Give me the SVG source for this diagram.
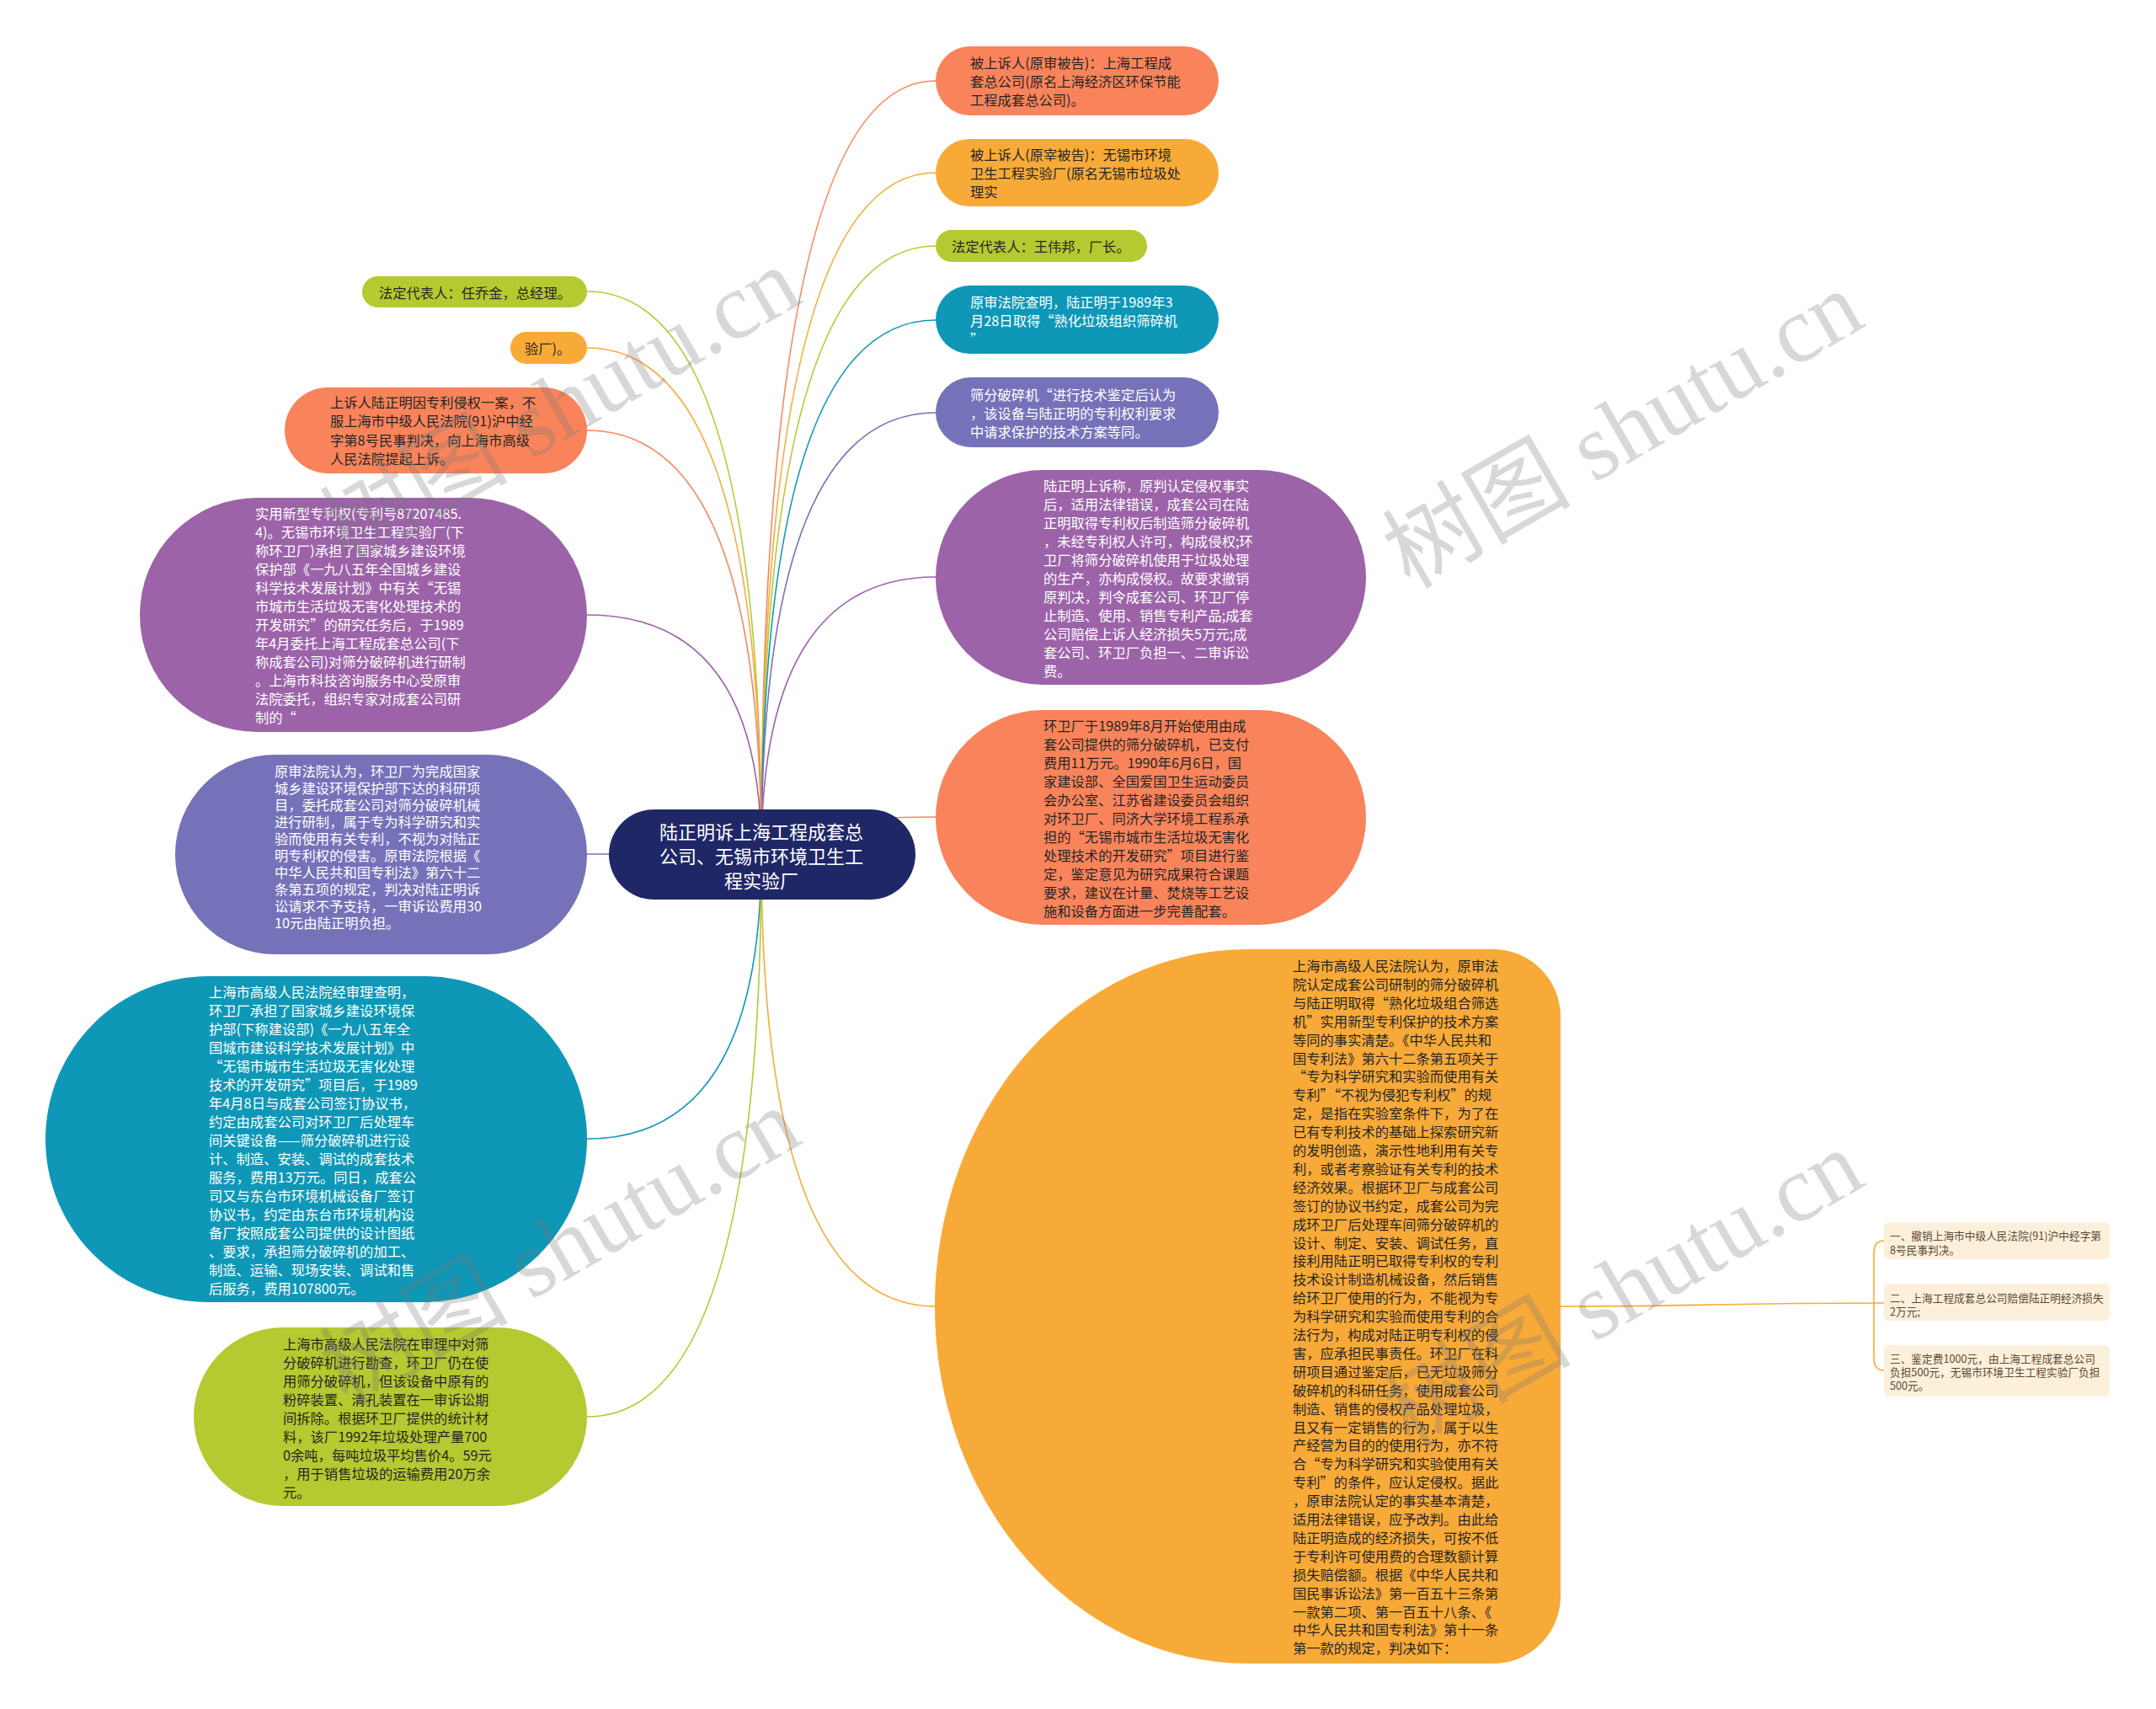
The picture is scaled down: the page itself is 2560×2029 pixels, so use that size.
<svg xmlns="http://www.w3.org/2000/svg" width="2560" height="2029" viewBox="0 0 2560 2029">
<style>
text{font-family:"Noto Sans CJK SC","Microsoft YaHei",sans-serif;dominant-baseline:central}
.t{font-size:16.3px}
.d{fill:#262626}
.w{fill:#ffffff}
.ct{font-size:22px;fill:#ffffff;text-anchor:middle}
.lf{font-size:12.7px;fill:#5c4a35}
.ln{fill:none;stroke-width:1.6}
.wm{font-family:"Liberation Serif","Noto Sans CJK SC",serif;font-size:112px;fill:#777777;opacity:0.28;text-anchor:middle}
.coral{fill:#F9845B}.orange{fill:#F8AA39}.green{fill:#B5C930}.teal{fill:#0F97B7}.bp{fill:#7572B9}.purple{fill:#9C63A8}.navy{fill:#1F2767}
.leaf{fill:#FDF0DB}
</style>
<rect x="0" y="0" width="2560" height="2029" fill="#ffffff"/>
<g id="connectors">
<path class="ln" stroke="#F9845B" d="M904 1014 Q904 96 1111 96"/>
<path class="ln" stroke="#F8AA39" d="M904 1014 Q904 205 1111 205"/>
<path class="ln" stroke="#B5C930" d="M904 1014 Q904 292 1111 292"/>
<path class="ln" stroke="#0F97B7" d="M904 1014 Q904 380 1111 380"/>
<path class="ln" stroke="#7572B9" d="M904 1014 Q904 490 1111 490"/>
<path class="ln" stroke="#9C63A8" d="M904 1014 Q904 685 1111 685"/>
<path class="ln" stroke="#F9845B" d="M904 1014 Q904 970 1111 970"/>
<path class="ln" stroke="#F8AA39" d="M904 1014 Q904 1551 1111 1551"/>
<path class="ln" stroke="#B5C930" d="M904 1014 Q904 346 697 346"/>
<path class="ln" stroke="#F8AA39" d="M904 1014 Q904 413 697 413"/>
<path class="ln" stroke="#F9845B" d="M904 1014 Q904 511 697 511"/>
<path class="ln" stroke="#9C63A8" d="M904 1014 Q904 730 697 730"/>
<path class="ln" stroke="#7572B9" d="M904 1014 L697 1014"/>
<path class="ln" stroke="#0F97B7" d="M904 1014 Q904 1352 697 1352"/>
<path class="ln" stroke="#B5C930" d="M904 1014 Q904 1682 697 1682"/>
<path class="ln" stroke="#F8AA39" d="M1853 1551 C2030 1551 2030 1547 2237 1547"/>
<path class="ln" stroke="#F8AA39" d="M2225 1547 L2225 1488 Q2225 1473 2237 1473"/>
<path class="ln" stroke="#F8AA39" d="M2225 1547 L2225 1612 Q2225 1627 2237 1627"/>
</g>
<g id="center">
<rect class="navy" x="723" y="961" width="364" height="107" rx="53.5"/>
<text class="ct" x="904" y="986">陆正明诉上海工程成套总</text>
<text class="ct" x="904" y="1015">公司、无锡市环境卫生工</text>
<text class="ct" x="904" y="1044">程实验厂</text>
</g>
<g id="r1">
<rect class="coral" x="1111" y="55" width="336" height="82" rx="41"/>
<text class="t d" x="1152"><tspan x="1152" y="74">被上诉人(原审被告)：上海工程成</tspan><tspan x="1152" y="96">套总公司(原名上海经济区环保节能</tspan><tspan x="1152" y="118">工程成套总公司)。</tspan></text>
</g>
<g id="r2">
<rect class="orange" x="1111" y="165" width="336" height="80" rx="40"/>
<text class="t d"><tspan x="1152" y="183">被上诉人(原宰被告)：无锡市环境</tspan><tspan x="1152" y="205">卫生工程实验厂(原名无锡市垃圾处</tspan><tspan x="1152" y="227">理实</tspan></text>
</g>
<g id="r3">
<rect class="green" x="1111" y="273" width="251" height="38" rx="19"/>
<text class="t d" x="1130" y="292">法定代表人：王伟邦，厂长。</text>
</g>
<g id="r4">
<rect class="teal" x="1111" y="339" width="336" height="81" rx="40.5"/>
<text class="t w"><tspan x="1152" y="358">原审法院查明，陆正明于1989年3</tspan><tspan x="1152" y="380">月28日取得“熟化垃圾组织筛碎机</tspan><tspan x="1152" y="402">”</tspan></text>
</g>
<g id="r5">
<rect class="bp" x="1111" y="448" width="336" height="83" rx="41.5"/>
<text class="t w"><tspan x="1152" y="468">筛分破碎机“进行技术鉴定后认为</tspan><tspan x="1152" y="490">，该设备与陆正明的专利权利要求</tspan><tspan x="1152" y="512">中请求保护的技术方案等同。</tspan></text>
</g>
<g id="r6">
<rect class="purple" x="1111" y="558" width="511" height="255" rx="127.5"/>
<text class="t w"><tspan x="1239" y="575.5">陆正明上诉称，原判认定侵权事实</tspan><tspan x="1239" y="597.5">后，适用法律错误，成套公司在陆</tspan><tspan x="1239" y="619.5">正明取得专利权后制造筛分破碎机</tspan><tspan x="1239" y="641.5">，未经专利权人许可，构成侵权;环</tspan><tspan x="1239" y="663.5">卫厂将筛分破碎机使用于垃圾处理</tspan><tspan x="1239" y="685.5">的生产，亦构成侵权。故要求撤销</tspan><tspan x="1239" y="707.5">原判决，判令成套公司、环卫厂停</tspan><tspan x="1239" y="729.5">止制造、使用、销售专利产品;成套</tspan><tspan x="1239" y="751.5">公司赔偿上诉人经济损失5万元;成</tspan><tspan x="1239" y="773.5">套公司、环卫厂负担一、二审诉讼</tspan><tspan x="1239" y="795.5">费。</tspan></text>
</g>
<g id="r7">
<rect class="coral" x="1111" y="843" width="511" height="255" rx="127.5"/>
<text class="t d"><tspan x="1239" y="860.5">环卫厂于1989年8月开始使用由成</tspan><tspan x="1239" y="882.5">套公司提供的筛分破碎机，已支付</tspan><tspan x="1239" y="904.5">费用11万元。1990年6月6日，国</tspan><tspan x="1239" y="926.5">家建设部、全国爱国卫生运动委员</tspan><tspan x="1239" y="948.5">会办公室、江苏省建设委员会组织</tspan><tspan x="1239" y="970.5">对环卫厂、同济大学环境工程系承</tspan><tspan x="1239" y="992.5">担的“无锡市城市生活垃圾无害化</tspan><tspan x="1239" y="1014.5">处理技术的开发研究”项目进行鉴</tspan><tspan x="1239" y="1036.5">定，鉴定意见为研究成果符合课题</tspan><tspan x="1239" y="1058.5">要求，建议在计量、焚烧等工艺设</tspan><tspan x="1239" y="1080.5">施和设备方面进一步完善配套。</tspan></text>
</g>
<g id="r8">
<path class="orange" d="M1481.5 1127 L1773 1127 A80 80 0 0 1 1853 1207 L1853 1895 A80 80 0 0 1 1773 1975 L1481.5 1975 A371.5 424 0 0 1 1481.5 1127 Z"/>
<text class="t d"><tspan x="1535" y="1146">上海市高级人民法院认为，原审法</tspan><tspan x="1535" y="1167.9">院认定成套公司研制的筛分破碎机</tspan><tspan x="1535" y="1189.8">与陆正明取得“熟化垃圾组合筛选</tspan><tspan x="1535" y="1211.7">机”实用新型专利保护的技术方案</tspan><tspan x="1535" y="1233.6">等同的事实清楚。《中华人民共和</tspan><tspan x="1535" y="1255.5">国专利法》第六十二条第五项关于</tspan><tspan x="1535" y="1277.4">“专为科学研究和实验而使用有关</tspan><tspan x="1535" y="1299.3">专利”“不视为侵犯专利权”的规</tspan><tspan x="1535" y="1321.2">定，是指在实验室条件下，为了在</tspan><tspan x="1535" y="1343.1">已有专利技术的基础上探索研究新</tspan><tspan x="1535" y="1365">的发明创造，演示性地利用有关专</tspan><tspan x="1535" y="1386.9">利，或者考察验证有关专利的技术</tspan><tspan x="1535" y="1408.8">经济效果。根据环卫厂与成套公司</tspan><tspan x="1535" y="1430.7">签订的协议书约定，成套公司为完</tspan><tspan x="1535" y="1452.6">成环卫厂后处理车间筛分破碎机的</tspan><tspan x="1535" y="1474.5">设计、制定、安装、调试任务，直</tspan><tspan x="1535" y="1496.4">接利用陆正明已取得专利权的专利</tspan><tspan x="1535" y="1518.3">技术设计制造机械设备，然后销售</tspan><tspan x="1535" y="1540.2">给环卫厂使用的行为，不能视为专</tspan><tspan x="1535" y="1562.1">为科学研究和实验而使用专利的合</tspan><tspan x="1535" y="1584">法行为，构成对陆正明专利权的侵</tspan><tspan x="1535" y="1605.9">害，应承担民事责任。环卫厂在科</tspan><tspan x="1535" y="1627.8">研项目通过鉴定后，已无垃圾筛分</tspan><tspan x="1535" y="1649.7">破碎机的科研任务，使用成套公司</tspan><tspan x="1535" y="1671.6">制造、销售的侵权产品处理垃圾，</tspan><tspan x="1535" y="1693.5">且又有一定销售的行为，属于以生</tspan><tspan x="1535" y="1715.4">产经营为目的的使用行为，亦不符</tspan><tspan x="1535" y="1737.3">合“专为科学研究和实验使用有关</tspan><tspan x="1535" y="1759.2">专利”的条件，应认定侵权。据此</tspan><tspan x="1535" y="1781.1">，原审法院认定的事实基本清楚，</tspan><tspan x="1535" y="1803">适用法律错误，应予改判。由此给</tspan><tspan x="1535" y="1824.9">陆正明造成的经济损失，可按不低</tspan><tspan x="1535" y="1846.8">于专利许可使用费的合理数额计算</tspan><tspan x="1535" y="1868.7">损失赔偿额。根据《中华人民共和</tspan><tspan x="1535" y="1890.6">国民事诉讼法》第一百五十三条第</tspan><tspan x="1535" y="1912.5">一款第二项、第一百五十八条、《</tspan><tspan x="1535" y="1934.4">中华人民共和国专利法》第十一条</tspan><tspan x="1535" y="1956.3">第一款的规定，判决如下：</tspan></text>
</g>
<g id="leaf1">
<rect class="leaf" x="2237" y="1451" width="268" height="44" rx="6"/>
<text class="lf"><tspan x="2244" y="1466">一、撤销上海市中级人民法院(91)沪中经字第</tspan><tspan x="2244" y="1482.5">8号民事判决。</tspan></text>
</g>
<g id="leaf2">
<rect class="leaf" x="2237" y="1524" width="268" height="44" rx="6"/>
<text class="lf"><tspan x="2244" y="1539.5">二、上海工程成套总公司赔偿陆正明经济损失</tspan><tspan x="2244" y="1556">2万元;</tspan></text>
</g>
<g id="leaf3">
<rect class="leaf" x="2237" y="1597" width="268" height="61" rx="6"/>
<text class="lf"><tspan x="2244" y="1612">三、鉴定费1000元，由上海工程成套总公司</tspan><tspan x="2244" y="1628">负担500元，无锡市环境卫生工程实验厂负担</tspan><tspan x="2244" y="1644">500元。</tspan></text>
</g>
<g id="l1">
<rect class="green" x="430" y="328" width="267" height="37" rx="18.5"/>
<text class="t d" x="450" y="346.5">法定代表人：任乔金，总经理。</text>
</g>
<g id="l2">
<rect class="orange" x="606" y="394" width="91" height="38" rx="19"/>
<text class="t d" x="623" y="413">验厂)。</text>
</g>
<g id="l3">
<rect class="coral" x="338" y="460" width="359" height="102" rx="51"/>
<text class="t d"><tspan x="392" y="477">上诉人陆正明因专利侵权一案，不</tspan><tspan x="392" y="499.3">服上海市中级人民法院(91)沪中经</tspan><tspan x="392" y="521.6">字第8号民事判决，向上海市高级</tspan><tspan x="392" y="543.9">人民法院提起上诉。</tspan></text>
</g>
<g id="l4">
<rect class="purple" x="166" y="591" width="531" height="278" rx="139"/>
<text class="t w"><tspan x="303" y="609">实用新型专利权(专利号87207485.</tspan><tspan x="303" y="631">4)。无锡市环境卫生工程实验厂(下</tspan><tspan x="303" y="653">称环卫厂)承担了国家城乡建设环境</tspan><tspan x="303" y="675">保护部《一九八五年全国城乡建设</tspan><tspan x="303" y="697">科学技术发展计划》中有关“无锡</tspan><tspan x="303" y="719">市城市生活垃圾无害化处理技术的</tspan><tspan x="303" y="741">开发研究”的研究任务后，于1989</tspan><tspan x="303" y="763">年4月委托上海工程成套总公司(下</tspan><tspan x="303" y="785">称成套公司)对筛分破碎机进行研制</tspan><tspan x="303" y="807">。上海市科技咨询服务中心受原审</tspan><tspan x="303" y="829">法院委托，组织专家对成套公司研</tspan><tspan x="303" y="851">制的“</tspan></text>
</g>
<g id="l5">
<rect class="bp" x="208" y="896" width="489" height="237" rx="118.5"/>
<text class="t w"><tspan x="326" y="914.5">原审法院认为，环卫厂为完成国家</tspan><tspan x="326" y="934.5">城乡建设环境保护部下达的科研项</tspan><tspan x="326" y="954.5">目，委托成套公司对筛分破碎机械</tspan><tspan x="326" y="974.5">进行研制，属于专为科学研究和实</tspan><tspan x="326" y="994.5">验而使用有关专利，不视为对陆正</tspan><tspan x="326" y="1014.5">明专利权的侵害。原审法院根据《</tspan><tspan x="326" y="1034.5">中华人民共和国专利法》第六十二</tspan><tspan x="326" y="1054.5">条第五项的规定，判决对陆正明诉</tspan><tspan x="326" y="1074.5">讼请求不予支持，一审诉讼费用30</tspan><tspan x="326" y="1094.5">10元由陆正明负担。</tspan></text>
</g>
<g id="l6">
<rect class="teal" x="54" y="1159" width="643" height="387" rx="193.5"/>
<text class="t w"><tspan x="248" y="1176.5">上海市高级人民法院经审理查明，</tspan><tspan x="248" y="1198.5">环卫厂承担了国家城乡建设环境保</tspan><tspan x="248" y="1220.5">护部(下称建设部)《一九八五年全</tspan><tspan x="248" y="1242.5">国城市建设科学技术发展计划》中</tspan><tspan x="248" y="1264.5">“无锡市城市生活垃圾无害化处理</tspan><tspan x="248" y="1286.5">技术的开发研究”项目后，于1989</tspan><tspan x="248" y="1308.5">年4月8日与成套公司签订协议书，</tspan><tspan x="248" y="1330.5">约定由成套公司对环卫厂后处理车</tspan><tspan x="248" y="1352.5">间关键设备——筛分破碎机进行设</tspan><tspan x="248" y="1374.5">计、制造、安装、调试的成套技术</tspan><tspan x="248" y="1396.5">服务，费用13万元。同日，成套公</tspan><tspan x="248" y="1418.5">司又与东台市环境机械设备厂签订</tspan><tspan x="248" y="1440.5">协议书，约定由东台市环境机构设</tspan><tspan x="248" y="1462.5">备厂按照成套公司提供的设计图纸</tspan><tspan x="248" y="1484.5">、要求，承担筛分破碎机的加工、</tspan><tspan x="248" y="1506.5">制造、运输、现场安装、调试和售</tspan><tspan x="248" y="1528.5">后服务，费用107800元。</tspan></text>
</g>
<g id="l7">
<rect class="green" x="230" y="1576" width="467" height="212" rx="106"/>
<text class="t d"><tspan x="336" y="1595">上海市高级人民法院在审理中对筛</tspan><tspan x="336" y="1617">分破碎机进行勘查，环卫厂仍在使</tspan><tspan x="336" y="1639">用筛分破碎机，但该设备中原有的</tspan><tspan x="336" y="1661">粉碎装置、清孔装置在一审诉讼期</tspan><tspan x="336" y="1683">间拆除。根据环卫厂提供的统计材</tspan><tspan x="336" y="1705">料，该厂1992年垃圾处理产量700</tspan><tspan x="336" y="1727">0余吨，每吨垃圾平均售价4。59元</tspan><tspan x="336" y="1749">，用于销售垃圾的运输费用20万余</tspan><tspan x="336" y="1771">元。</tspan></text>
</g>
<g id="watermarks">
<text class="wm" transform="translate(665 482) rotate(-30)">树图 shutu.cn</text>
<text class="wm" transform="translate(1927 510) rotate(-30)">树图 shutu.cn</text>
<text class="wm" transform="translate(665 1480) rotate(-30)">树图 shutu.cn</text>
<text class="wm" transform="translate(1927 1530) rotate(-30)">树图 shutu.cn</text>
</g>
</svg>
